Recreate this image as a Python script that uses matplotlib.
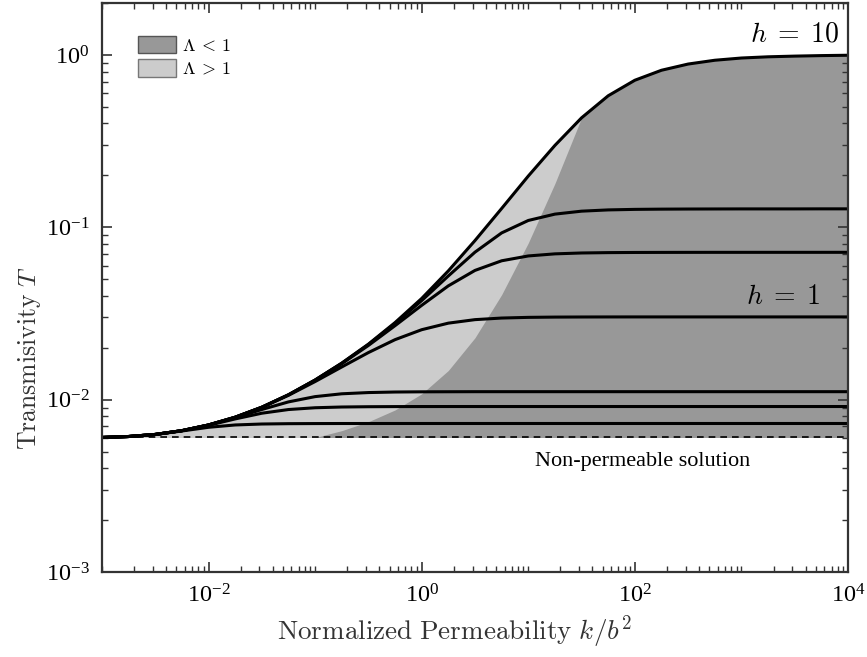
import numpy as np
import matplotlib
matplotlib.use("Agg")
import matplotlib.pyplot as plt
from matplotlib.patches import Patch
from matplotlib.ticker import FixedLocator, LogLocator, NullFormatter

plt.rcParams['font.family'] = ['Liberation Serif', 'DejaVu Serif']
plt.rcParams['mathtext.fontset'] = 'cm'

# normalized permeability k/b^2, quarter-decade steps from 1e-3 to 1e4
k = 10.0 ** np.arange(-3, 4.001, 0.25)

# non-permeable solution
T0 = 0.00603

# transmissivity curves (top: h = 10, fourth: h = 1)
T_h10 = [0.006026, 0.006109, 0.006281, 0.006607, 0.007129, 0.007907, 0.009037,
         0.01067, 0.0130, 0.01629, 0.02099, 0.02799, 0.03864, 0.05585, 0.08375,
         0.1285, 0.1982, 0.2985, 0.4315, 0.5794, 0.7129, 0.8147, 0.8851, 0.9311,
         0.9594, 0.975, 0.984, 0.9908, 0.9954]
T_b = [0.006034, 0.006109, 0.006281, 0.006607, 0.007129, 0.007907, 0.009036,
       0.01067, 0.01299, 0.01625, 0.02088, 0.02765, 0.03755, 0.05219, 0.0717,
       0.09274, 0.1095, 0.1192, 0.124, 0.1261, 0.127, 0.1274, 0.1276, 0.1277,
       0.1278, 0.1278, 0.1278, 0.1279, 0.1279]
T_c = [0.006034, 0.006109, 0.006281, 0.006607, 0.007129, 0.007906, 0.009034,
       0.01066, 0.01296, 0.01617, 0.02062, 0.02686, 0.03524, 0.04572, 0.05619,
       0.0639, 0.06817, 0.0701, 0.07093, 0.07127, 0.07142, 0.07148, 0.07152,
       0.07154, 0.07154, 0.07155, 0.07155, 0.07155, 0.07156]
T_h1 = [0.006034, 0.006109, 0.006281, 0.006607, 0.007128, 0.007901, 0.009014,
        0.01059, 0.01273, 0.01547, 0.01875, 0.02228, 0.02545, 0.02778, 0.02911,
        0.02974, 0.03001, 0.03012, 0.03016, 0.03018, 0.03019, 0.03019, 0.03019,
        0.03019, 0.03019, 0.03019, 0.03019, 0.03019, 0.03019]
T_e = [0.00603, 0.00611, 0.006281, 0.006606, 0.007119, 0.007848, 0.008764, 0.009701,
       0.01041, 0.01081, 0.01099, 0.01107, 0.0111, 0.01111] + [0.01112] * 15
T_f = [0.00603, 0.00611, 0.00628, 0.006604, 0.007097, 0.007726, 0.008339, 0.00876,
       0.008972, 0.009061, 0.009096, 0.009111, 0.009117, 0.009119] + [0.00912] * 15
T_g = [0.00603, 0.00611, 0.006279, 0.006576, 0.00691, 0.007128, 0.00722, 0.007252,
       0.007263, 0.007268, 0.007269] + [0.00727] * 18

# lower edge of the Lambda > 1 region, k from 1e-3 up to 10^1.5
lam_lower = [T0] * 9 + [0.006607, 0.007447, 0.00871, 0.01081, 0.01476, 0.02286,
                        0.04064, 0.0811, 0.1795, 0.4315]

curves = [T_h10, T_b, T_c, T_h1, T_e, T_f, T_g]

dark = '#989898'
light = '#cccccc'

fig = plt.figure(figsize=(8.67, 6.57), dpi=100)
ax = fig.add_axes([0.1176, 0.1294, 0.8605, 0.866])

ax.fill_between(k, T0, T_h10, color=dark, lw=0)
n = len(lam_lower)
ax.fill_between(k[:n], lam_lower, T_h10[:n], color=light, lw=0)

for T in curves:
    ax.plot(k, T, color='black', lw=2.2, solid_joinstyle='round')

ax.axhline(T0, color='black', lw=1.2, ls=(0, (4, 3)))

ax.set_xscale('log')
ax.set_yscale('log')
ax.set_xlim(1e-3, 1e4)
ax.set_ylim(1e-3, 2)

ax.xaxis.set_major_locator(FixedLocator([1e-2, 1e0, 1e2, 1e4]))
ax.xaxis.set_minor_locator(LogLocator(base=10, subs=np.arange(1, 10)))
ax.xaxis.set_minor_formatter(NullFormatter())
ax.yaxis.set_major_locator(FixedLocator([1e-3, 1e-2, 1e-1, 1e0]))
ax.yaxis.set_minor_locator(LogLocator(base=10, subs=np.arange(2, 10)))
ax.yaxis.set_minor_formatter(NullFormatter())

ax.tick_params(which='both', direction='in', top=True, right=True,
               labelsize=17.5, color='#333333', pad=9)
ax.tick_params(which='major', length=7, width=1.2)
ax.tick_params(which='minor', length=4, width=1.0)
for s in ax.spines.values():
    s.set_linewidth(1.6)
    s.set_color('#333333')

ax.set_xlabel(r'$\mathrm{Normalized\ Permeability}\ k/b^2$', fontsize=19.5,
              color='#333333', va='center')
ax.xaxis.set_label_coords(0.473, -0.105)
ax.set_ylabel(r'$\mathrm{Transmisivity}\ T$', fontsize=18.5, color='#333333',
              va='center')
ax.yaxis.set_label_coords(-0.0965, 0.375)

ax.text(10 ** 3.5, 1.3, r'$h\;=\;10$', fontsize=20, ha='center', va='center')
ax.text(10 ** 3.39, 0.039, r'$h\;=\;1$', fontsize=20, ha='center', va='center')
ax.text(10 ** 2.07, 0.00438, 'Non-permeable solution', fontsize=16,
        ha='center', va='center')

handles = [Patch(facecolor=dark, edgecolor='#555555', label=r'$\Lambda\:<\:1$'),
           Patch(facecolor=light, edgecolor='#777777', label=r'$\Lambda\:>\:1$')]
ax.legend(handles=handles, loc='upper left', bbox_to_anchor=(0.039, 0.955),
          frameon=False, fontsize=13, handlelength=2.1, handleheight=1.1,
          handletextpad=0.3, labelspacing=0.25, borderaxespad=0)

fig.savefig('out.png', dpi=100)
